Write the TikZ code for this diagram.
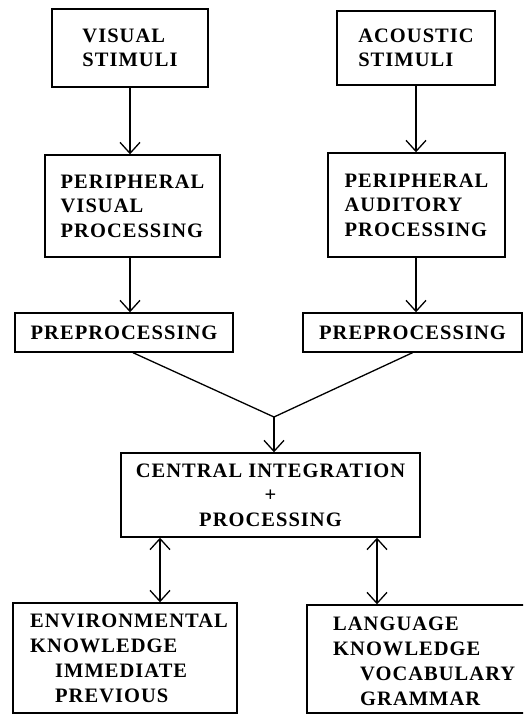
\documentclass[tikz,border=0pt]{standalone}
\usepackage{fontspec}
\setmainfont{Liberation Serif}[LetterSpace=5]
\usetikzlibrary{arrows.meta}
\tikzset{
  tip/.tip={Straight Barb[length=11pt,width=20pt,line width=1.3pt]},
  box/.style={draw, line width=1.4pt, inner sep=0pt, align=left,
    font=\fontsize{20.5}{24.5}\selectfont\bfseries},
  boxc/.style={box, align=center},
  frame/.style={draw, line width=1.4pt, inner sep=0pt},
  lbl/.style={inner sep=0pt, align=left,
    font=\fontsize{20.5}{25.2}\selectfont\bfseries},
  line/.style={line width=1.3pt},
  arr/.style={line, -tip},
  darr/.style={line, tip-tip}
}
\begin{document}
\begin{tikzpicture}[x=1pt,y=-1pt]
\useasboundingbox (0,0) rectangle (523,715);
\clip (0,0) rectangle (523,715);

% input boxes
\node[box, minimum width=156pt, minimum height=78pt] (vis) at (130,48) {VISUAL\\STIMULI};
\node[box, minimum width=158pt, minimum height=74pt] (aco) at (416,48) {ACOUSTIC\\STIMULI};

% peripheral processing
\node[box, minimum width=175pt, minimum height=102pt] (pvis) at (132.5,206) {PERIPHERAL\\VISUAL\\PROCESSING};
\node[box, minimum width=177pt, minimum height=104pt] (paud) at (416.5,205) {PERIPHERAL\\AUDITORY\\PROCESSING};

% preprocessing
\node[box, minimum width=218pt, minimum height=39pt] (pre1) at (124,332.5) {PREPROCESSING};
\node[box, minimum width=219pt, minimum height=39pt] (pre2) at (412.5,332.5) {PREPROCESSING};

% central stage
\node[boxc, minimum width=299pt, minimum height=84pt] (cen) at (270.5,495) {CENTRAL INTEGRATION\\+\\PROCESSING};

% knowledge stores (the right one runs past the page edge)
\node[frame, minimum width=224pt, minimum height=110pt] (env) at (125,658) {};
\node[frame, minimum width=222pt, minimum height=108pt] (lang) at (418,659) {};
\node[lbl, anchor=north west] (envT) at (30,613.5)
  {ENVIRONMENTAL\\KNOWLEDGE\\\hspace*{25pt}IMMEDIATE\\\hspace*{25pt}PREVIOUS};
\node[lbl, anchor=north west] (langT) at (333,616.5)
  {LANGUAGE\\KNOWLEDGE\\\hspace*{27pt}VOCABULARY\\\hspace*{27pt}GRAMMAR};

% connectors
\draw[arr] (vis.south) -- (vis.south |- pvis.north);
\draw[arr] (aco.south) -- (aco.south |- paud.north);
\draw[arr] (vis.south |- pvis.south) -- (vis.south |- pre1.north);
\draw[arr] (aco.south |- paud.south) -- (aco.south |- pre2.north);

\coordinate (j) at (274,417);
\draw[line] ([xshift=9pt]pre1.south) -- (j) -- (pre2.south);
\draw[arr] (j) -- (j |- cen.north);

\path ([xshift=-110.5pt]cen.south) coordinate (d1);
\path ([xshift=106.5pt]cen.south) coordinate (d2);
\draw[darr] (d1) -- (d1 |- env.north);
\draw[darr] (d2) -- (d2 |- lang.north);
\end{tikzpicture}
\end{document}
